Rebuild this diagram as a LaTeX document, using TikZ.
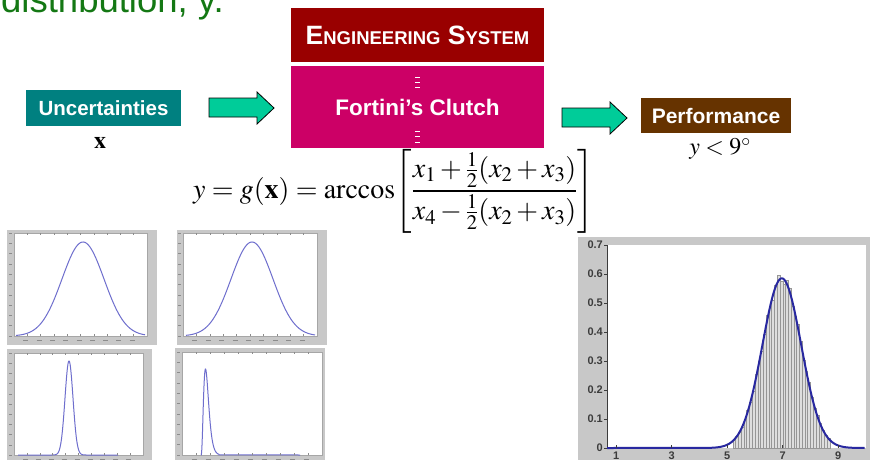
\documentclass[tikz,border=0pt]{standalone}
\usepackage{mathptmx}
\usepackage[no-math]{fontspec}
\setmainfont{Liberation Serif}
\setsansfont{Liberation Sans}
\newcommand\fsz[1]{\fontsize{#1}{#1}\selectfont}
\newcommand\halfsm{{\textstyle\frac{1}{2}}}
\definecolor{titlegreen}{RGB}{20,120,20}
\definecolor{uncteal}{RGB}{0,128,128}
\definecolor{arrowgreen}{RGB}{0,204,153}
\definecolor{engred}{RGB}{153,0,0}
\definecolor{clutchmag}{RGB}{204,0,102}
\definecolor{perfbrown}{RGB}{102,51,0}
\definecolor{plotgray}{RGB}{200,200,200}
\definecolor{smallblue}{RGB}{110,110,205}
\definecolor{bigblue}{RGB}{40,40,160}
\definecolor{barfill}{RGB}{222,222,222}
\definecolor{barline}{RGB}{150,150,150}
\definecolor{ticklab}{RGB}{60,60,60}
\begin{document}
\begin{tikzpicture}[x=1pt,y=-1pt,
  labelbox/.style={inner sep=0pt, text=white, font=\sffamily\bfseries},
  blockarrow/.style={fill=arrowgreen, draw=black, line width=0.8pt, line join=miter},
  frame/.style={fill=plotgray, draw=none},
  axesbox/.style={fill=white, draw=gray!70, line width=0.4pt},
  smallcurve/.style={draw=smallblue, line width=1pt},
  bigcurve/.style={draw=bigblue, line width=2pt},
  bar/.style={fill=barfill, draw=barline, line width=0.3pt},
  ytick/.style={font=\sffamily\bfseries\fsz{11}, text=ticklab, anchor=east, inner sep=1pt},
  xtick/.style={font=\sffamily\bfseries\fsz{11}, text=ticklab, anchor=north, inner sep=1pt},
  tickmark/.style={draw=ticklab, line width=0.5pt},
  minitick/.style={draw=gray!90, line width=0.5pt},
  dotdash/.style={draw=white, line width=0.9pt}
]
\useasboundingbox (0,0) rectangle (870,460);
\clip (0,0) rectangle (870,460);
\fill[white] (0,0) rectangle (870,460);

% title fragment
\node[anchor=base west, inner sep=0pt, text=titlegreen, font=\sffamily\fsz{36.5}] (title) at (1,13) {distribution, y.};

% boxes
\node[labelbox, fill=uncteal, minimum width=155pt, minimum height=36pt, font=\sffamily\bfseries\fsz{20.5}] (unc) at (103.5,108) {Uncertainties};
\node[inner sep=0pt, font=\fsz{24}] (xvec) at (100,143) {$\mathbf{x}$};

\node[labelbox, fill=engred, minimum width=253pt, minimum height=54pt] (eng) at (417.5,35)
  {{\fsz{26.5}E}{\fsz{18.5}NGINEERING}{\fsz{26.5} S}{\fsz{18.5}YSTEM}};
\node[labelbox, fill=clutchmag, minimum width=253pt, minimum height=82pt, font=\sffamily\bfseries\fsz{22.5}] (clutch) at (417.5,107) {Fortini’s Clutch};
\foreach \yy in {77.5,82.5,87.5,131,136.5,142}
  \draw[dotdash] (415,\yy) -- (419.5,\yy);

\node[labelbox, fill=perfbrown, minimum width=150pt, minimum height=35pt, font=\sffamily\bfseries\fsz{21}] (perf) at (716,115.5) {Performance};
\node[inner sep=0pt, font=\fsz{24}] (ylim) at (720,149) {$y<9^{\circ}$};

% block arrows
\draw[blockarrow] (209,98) -- (257,98) -- (257,92) -- (274,108) -- (257,124) -- (257,117) -- (209,117) -- cycle;
\draw[blockarrow] (562,108) -- (610,108) -- (610,102) -- (627,118) -- (610,134) -- (610,127) -- (562,127) -- cycle;

% equation
\node[inner sep=0pt, font=\fsz{28}] (eq) at (393.5,191)
  {$\displaystyle y = g(\mathbf{x}) = \arccos\!\left[\frac{x_1+\halfsm(x_2+x_3)}{x_4-\halfsm(x_2+x_3)}\right]$};

% small plot 1
\fill[frame] (7,230) rectangle (157,345);
\draw[axesbox] (14,233) rectangle (147,336);
\draw[smallcurve] plot[domain=16:145, samples=120] (\x,{336-94*exp(-((\x-83)^2)/882)});
% small plot 2
\fill[frame] (177,230) rectangle (327,345);
\draw[axesbox] (183,233) rectangle (317,336);
\draw[smallcurve] plot[domain=186:315, samples=120] (\x,{336-94*exp(-((\x-252)^2)/882)});
% small plot 3
\fill[frame] (7,349) rectangle (152,460);
\draw[axesbox] (14,353) rectangle (143,455);
\draw[smallcurve] (18,455) -- plot[domain=50:88, samples=120] (\x,{455-94*exp(-((\x-69)^2)/32)}) -- (118,455);
% small plot 4
\fill[frame] (175,348) rectangle (325,460);
\draw[axesbox] (182,352) rectangle (322,455);
\draw[smallcurve] (201,455) -- plot[domain=0.05:25, samples=150] ({201+\x},{455-86*(\x/4.5)^3*exp(3*(1-\x/4.5))}) -- (300,455);

% mini tick marks on small plots
\foreach \xa/\xb/\ya/\yb in {14/147/233/336, 183/317/233/336, 14/143/353/455, 182/322/352/455}{
  \foreach \k in {1,...,9}{
    \draw[minitick] ({\xa+(\xb-\xa)*\k/10},\ya) -- ++(0,2);
    \draw[minitick] ({\xa+(\xb-\xa)*\k/10},\yb) -- ++(0,-2);
    \draw[minitick] ({\xa+(\xb-\xa)*(\k-0.3)/10},{\yb+4.5}) -- ++(5,0);
  }
  \foreach \k in {0,...,10}{
    \draw[minitick] ({\xa-5},{\yb-(\yb-\ya)*\k/10}) -- ++(3,0);
  }
}

% big plot
\fill[frame] (578,237) rectangle (870,460);
\fill[white] (607,245) rectangle (866,448);
\draw[ticklab, line width=0.8pt] (607,245) -- (607,448);
\foreach \i in {0,...,34}{
  \pgfmathsetmacro\xl{5.2+0.1*\i}
  \pgfmathsetmacro\hh{0.585*exp(-((\xl+0.05-6.97)^2)/0.98)*(1+0.035*sin(\i*97))}
  \draw[bar] ({588.4+27.75*\xl},448) rectangle ({588.4+27.75*(\xl+0.1)},{448-290*\hh});
}
\draw[bigcurve] (607,448) -- plot[domain=4.2:9.95, samples=140] ({588.4+27.75*\x},{448-290*0.585*exp(-((\x-6.97)^2)/0.98)});
\foreach \k/\lab in {0/0,1/0.1,2/0.2,3/0.3,4/0.4,5/0.5,6/0.6,7/0.7}{
  \draw[tickmark] (604,{448-29*\k}) -- (607,{448-29*\k});
  \node[ytick] (yl\k) at (604,{448-29*\k}) {\lab};
}
\foreach \k in {1,3,5,7,9}{
  \draw[tickmark] ({588.4+27.75*\k},448) -- ({588.4+27.75*\k},445);
  \node[xtick] (xl\k) at ({588.4+27.75*\k},451) {\k};
}
\end{tikzpicture}
\end{document}
